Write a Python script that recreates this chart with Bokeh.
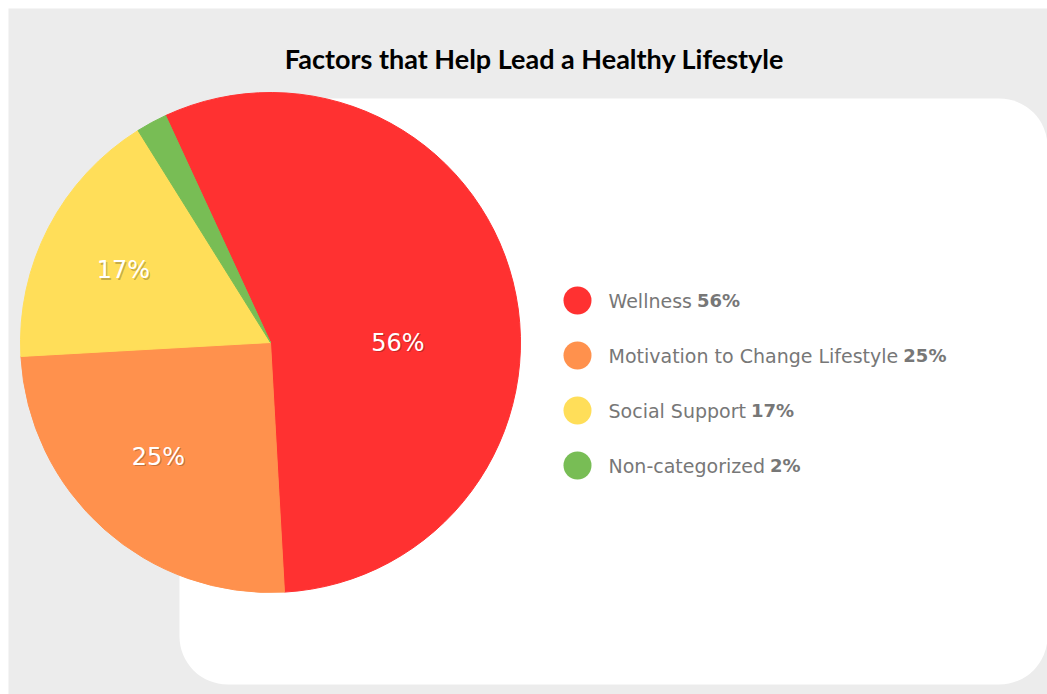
import math
from bokeh.plotting import figure
from bokeh.models import Range1d, BoxAnnotation
from bokeh.core.properties import value
from bokeh.embed import file_html
from bokeh.resources import INLINE

# ---------------- data ----------------
title = "Factors that Help Lead a Healthy Lifestyle"
categories = ["Wellness", "Motivation to Change Lifestyle", "Social Support", "Non-categorized"]
shares = [56, 25, 17, 2]
share_labels = ["56%", "25%", "17%", "2%"]
colors = ["#FF3131", "#FF914D", "#FFDE59", "#78BD55"]

# ---------------- layout ----------------
W, H = 1047, 694


def Y(y):
    return H - y


CX, CY, R = 270, 342, 250
START_DEG = 114.8
LEG_X, LEG_Y0, LEG_DY = 577, 300, 55
TXT_X = 608
LEG_FONT_PX = 19
# label placement (radius fraction, angle shift in degrees) per slice
lab_rfrac = [0.51, 0.64, 0.655, 0.0]
lab_shift = [-14.0, -2.7, 1.3, 0.0]
show_lab = [True, True, True, False]

# text width estimate (DejaVu Sans advance widths, units per em 2048)
_dv = {' ': 651, '-': 739, 'a': 1255, 'c': 1126, 'd': 1300, 'e': 1260, 'f': 721, 'g': 1300,
       'h': 1298, 'i': 569, 'l': 569, 'n': 1298, 'o': 1253, 'p': 1300, 'r': 842, 's': 1067,
       't': 803, 'u': 1298, 'v': 1212, 'y': 1212, 'z': 1075, 'M': 1767, 'W': 2025, 'C': 1430,
       'L': 1141, 'S': 1300, 'N': 1532}


def text_w(s, px):
    try:
        from PIL import ImageFont
        f = ImageFont.truetype("DejaVuSans.ttf", px)
        return f.getlength(s)
    except Exception:
        return sum(_dv.get(ch, 1200) for ch in s) / 2048.0 * px


p = figure(width=W, height=H, x_range=Range1d(0, W), y_range=Range1d(0, H),
           x_axis_type=None, y_axis_type=None, output_backend="svg",
           toolbar_location=None, min_border=0)
p.grid.visible = False
p.outline_line_color = None
p.background_fill_color = "white"
p.border_fill_color = "white"

p.add_layout(BoxAnnotation(left=8, right=W, bottom=0, top=Y(8), fill_color="#ececec",
                           fill_alpha=1, line_color=None, level="underlay"))
p.add_layout(BoxAnnotation(left=179, right=W, bottom=Y(684), top=Y(98), fill_color="white",
                           fill_alpha=1, line_color=None, level="underlay", border_radius=48))

# title
p.text(x=[534], y=[Y(58)], text=[title], text_font=value("Lato"), text_font_style="bold",
       text_font_size="27px", text_align="center", text_baseline="middle", text_color="black")

# pie
total = float(sum(shares))
ends, starts, mids = [], [], []
a = START_DEG
for s in shares:
    ends.append(a)
    a -= s / total * 360.0
    starts.append(a)
    mids.append((ends[-1] + a) / 2.0)

n = len(shares)
p.wedge(x=[CX] * n, y=[Y(CY)] * n, radius=R,
        start_angle=[math.radians(v) for v in starts],
        end_angle=[math.radians(v) for v in ends],
        fill_color=colors, line_color=colors, line_width=1)

lx, ly, lt = [], [], []
for i in range(n):
    if not show_lab[i]:
        continue
    ang = math.radians(mids[i] + lab_shift[i])
    lx.append(CX + lab_rfrac[i] * R * math.cos(ang))
    ly.append(Y(CY) + lab_rfrac[i] * R * math.sin(ang))
    lt.append(share_labels[i])

p.text(x=[v + 1.2 for v in lx], y=[v - 1.2 for v in ly], text=lt, text_font=value("DejaVu Sans"),
       text_font_size="24px", text_align="center", text_baseline="middle",
       text_color="#000000", text_alpha=0.22)
p.text(x=lx, y=ly, text=lt, text_font=value("DejaVu Sans"), text_font_size="24px",
       text_align="center", text_baseline="middle", text_color="white")

# legend
rows = [Y(LEG_Y0 + i * LEG_DY) for i in range(len(categories))]
p.scatter(x=[LEG_X] * len(categories), y=rows, size=28, marker="circle",
          fill_color=colors, line_color=None)
p.text(x=[TXT_X] * len(categories), y=rows, text=categories, text_font=value("DejaVu Sans"),
       text_font_size=f"{LEG_FONT_PX}px", text_align="left", text_baseline="middle",
       text_color="#777777")
num_x = [TXT_X + text_w(c, LEG_FONT_PX) + 5 for c in categories]
p.text(x=num_x, y=rows, text=share_labels, text_font=value("DejaVu Sans"),
       text_font_style="bold", text_font_size=f"{LEG_FONT_PX - 1}px", text_align="left",
       text_baseline="middle", text_color="#777777")

open("out.html", "w").write(file_html(p, INLINE))
